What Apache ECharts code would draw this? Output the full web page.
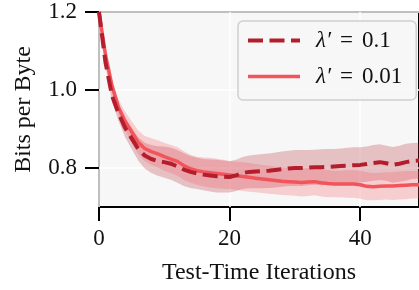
<!DOCTYPE html>
<html>
<head>
<meta charset="utf-8">
<script src="https://cdn.jsdelivr.net/npm/echarts@6/dist/echarts.min.js"></script>
<style>html,body{margin:0;padding:0;background:#fff;}#c{width:419px;height:290px;}</style>
</head>
<body>
<div id="c"></div>
<script>
const iterations = Array.from({length: 50}, (_, i) => String(i));
const xTickLabels = ['0', '20', '40'];
const yTickValues = [0.8, 1.0, 1.2];

const nameA = 'λ′ = 0.1';
const meanA = [1.200, 1.070, 0.985, 0.940, 0.903, 0.876, 0.849, 0.832, 0.823, 0.818,
  0.815, 0.811, 0.804, 0.796, 0.790, 0.786, 0.783, 0.781, 0.779, 0.778,
  0.777, 0.781, 0.787, 0.790, 0.791, 0.792, 0.793, 0.795, 0.797, 0.799,
  0.800, 0.800, 0.801, 0.802, 0.802, 0.803, 0.804, 0.805, 0.806, 0.807,
  0.808, 0.810, 0.813, 0.815, 0.812, 0.808, 0.811, 0.815, 0.818, 0.819];
const stdA = [0.000, 0.010, 0.016, 0.020, 0.024, 0.027, 0.030, 0.033, 0.036, 0.038,
  0.040, 0.041, 0.042, 0.042, 0.041, 0.040, 0.040, 0.041, 0.042, 0.041,
  0.040, 0.040, 0.041, 0.042, 0.043, 0.044, 0.044, 0.045, 0.045, 0.045,
  0.046, 0.046, 0.045, 0.045, 0.046, 0.046, 0.045, 0.045, 0.046, 0.046,
  0.045, 0.045, 0.046, 0.046, 0.045, 0.046, 0.046, 0.047, 0.046, 0.046];

const nameB = 'λ′ = 0.01';
const meanB = [1.200, 1.090, 1.010, 0.955, 0.920, 0.893, 0.866, 0.850, 0.842, 0.836,
  0.829, 0.823, 0.817, 0.806, 0.798, 0.793, 0.790, 0.788, 0.786, 0.784,
  0.782, 0.780, 0.778, 0.776, 0.774, 0.772, 0.770, 0.768, 0.766, 0.765,
  0.764, 0.763, 0.764, 0.765, 0.762, 0.760, 0.759, 0.759, 0.759, 0.759,
  0.757, 0.753, 0.752, 0.753, 0.754, 0.754, 0.755, 0.756, 0.757, 0.757];
const stdB = [0.000, 0.010, 0.016, 0.020, 0.024, 0.027, 0.030, 0.032, 0.034, 0.035,
  0.036, 0.036, 0.037, 0.037, 0.036, 0.036, 0.037, 0.038, 0.038, 0.037,
  0.036, 0.036, 0.037, 0.037, 0.036, 0.036, 0.036, 0.035, 0.035, 0.035,
  0.035, 0.036, 0.036, 0.035, 0.035, 0.035, 0.034, 0.034, 0.035, 0.035,
  0.036, 0.036, 0.035, 0.035, 0.035, 0.036, 0.036, 0.036, 0.035, 0.035];

const colorA = '#b41e2c';
const colorB = '#f2545b';
const bandA = 'rgba(180,30,45,0.25)';
const bandB = 'rgba(242,84,91,0.25)';
const FONT = 'Liberation Serif';

function bandSeries(mean, std, fill, key) {
  const lower = mean.map((m, i) => +(m - std[i]).toFixed(4));
  const width = std.map(s => +(2 * s).toFixed(4));
  return [
    {type: 'line', stack: key, data: lower, symbol: 'none', silent: true,
     lineStyle: {opacity: 0}, z: 1},
    {type: 'line', stack: key, data: width, symbol: 'none', silent: true,
     lineStyle: {opacity: 0}, areaStyle: {color: fill, opacity: 1}, z: 1}
  ];
}

const chart = echarts.init(document.getElementById('c'), null, {renderer: 'canvas'});
chart.setOption({
  animation: false,
  backgroundColor: '#ffffff',
  grid: {left: 99, top: 12, right: -3, bottom: 81, show: true,
         backgroundColor: '#f7f7f7', borderColor: '#000', borderWidth: 2},
  legend: {
    data: [nameA, nameB],
    left: 238, top: 21, orient: 'vertical',
    padding: [8, 14, 12, 8], itemGap: 13, itemWidth: 52, itemHeight: 20,
    backgroundColor: 'rgba(247,247,247,0.85)', borderColor: '#cfcfcf',
    borderWidth: 1.5, borderRadius: 5,
    lineStyle: {width: 'inherit'},
    itemStyle: {color: 'rgba(0,0,0,0)', borderColor: 'rgba(0,0,0,0)', borderWidth: 0, opacity: 0},
    formatter: function (n) {
      const v = n.split('=')[1].trim();
      return '{l|λ′}{o|=}{n|' + v + '}';
    },
    textStyle: {
      fontFamily: FONT, fontSize: 23, color: '#111', padding: [0, 0, 0, 11],
      rich: {
        l: {fontFamily: FONT, fontSize: 23, fontStyle: 'italic', color: '#111'},
        o: {fontFamily: FONT, fontSize: 23, color: '#111', padding: [0, 9]},
        n: {fontFamily: FONT, fontSize: 23, color: '#111'}
      }
    }
  },
  xAxis: {
    type: 'category', data: iterations, boundaryGap: false,
    name: 'Test-Time Iterations', nameLocation: 'middle', nameGap: 54,
    nameTextStyle: {fontFamily: FONT, fontSize: 24, color: '#111'},
    axisLine: {show: false},
    axisTick: {show: true, length: 14, inside: false,
      interval: (i, v) => xTickLabels.indexOf(v) >= 0,
      lineStyle: {color: '#000', width: 2}},
    axisLabel: {margin: 20, fontFamily: FONT, fontSize: 23, color: '#111',
      interval: (i, v) => xTickLabels.indexOf(v) >= 0},
    splitLine: {show: true, interval: (i, v) => xTickLabels.indexOf(v) >= 0,
      lineStyle: {color: '#ffffff', width: 1.5}}
  },
  yAxis: {
    type: 'value', min: 0.7, max: 1.2,
    name: 'Bits per Byte', nameLocation: 'middle', nameGap: 63,
    nameTextStyle: {fontFamily: FONT, fontSize: 24, color: '#111'},
    axisLine: {show: false},
    axisTick: {show: true, length: 14, customValues: yTickValues,
      lineStyle: {color: '#000', width: 2}},
    axisLabel: {margin: 22, fontFamily: FONT, fontSize: 23, color: '#111',
      customValues: yTickValues, formatter: v => v.toFixed(1)},
    splitLine: {show: true, lineStyle: {color: '#ffffff', width: 1.5}}
  },
  series: [
    ...bandSeries(meanA, stdA, bandA, 'bandA'),
    ...bandSeries(meanB, stdB, bandB, 'bandB'),
    {name: nameB, type: 'line', data: meanB, symbol: 'none', showSymbol: false, z: 3,
     color: colorB, lineStyle: {color: colorB, width: 3.5, type: 'solid'}},
    {name: nameA, type: 'line', data: meanA, symbol: 'none', showSymbol: false, z: 4,
     color: colorA, lineStyle: {color: colorA, width: 4, type: [15, 6.5]}}
  ]
});
</script>
</body>
</html>
